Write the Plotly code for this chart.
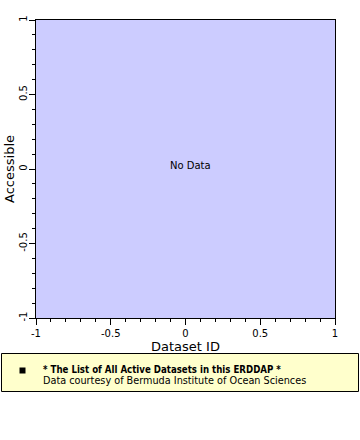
import plotly.graph_objects as go

# Data (empty: "No Data")
dataset_id = []
accessible = []

x_range = [-1, 1]
y_range = [-1, 1]
major_ticks = [-1, -0.5, 0, 0.5, 1]
tick_text = ["-1", "-0.5", "0", "0.5", "1"]

W, H = 360, 440
L, R, T, B = 36, 335, 20, 318

fig = go.Figure()
fig.add_trace(go.Scatter(x=dataset_id, y=accessible, mode="markers",
                         marker=dict(color="black", symbol="square", size=5),
                         showlegend=False))

def px_x(p):
    return (p - L) / (R - L)

def px_y(p):
    return (B - p) / (B - T)

font = "DejaVu Sans"
axis_common = dict(
    showline=True, linecolor="black", linewidth=1, mirror=True,
    showgrid=False, zeroline=False, automargin=False,
    ticks="outside", ticklen=6, tickcolor="black", tickwidth=1,
    tickvals=major_ticks, ticktext=tick_text,
    tickfont=dict(family=font, size=10, color="black"),
    minor=dict(ticks="outside", ticklen=3, dtick=0.1, tick0=0, tickcolor="black", showgrid=False),
)

fig.update_layout(
    width=W, height=H,
    margin=dict(l=L, r=W - R, t=T, b=H - B, pad=0),
    paper_bgcolor="white", plot_bgcolor="#ccccff",
    font=dict(family=font, size=10, color="black"),
    xaxis=dict(range=x_range, **axis_common,
               title=dict(text="Dataset ID", font=dict(family=font, size=13), standoff=1)),
    yaxis=dict(range=y_range, tickangle=-90, ticklabelstandoff=-2, **axis_common,
               title=dict(text="Accessible", font=dict(family=font, size=13), standoff=0)),
    shapes=[
        dict(type="rect", xref="paper", yref="paper",
             x0=px_x(1.5), x1=px_x(358.5), y0=px_y(353.5), y1=px_y(391.5),
             line=dict(color="black", width=1), fillcolor="#ffffcc", layer="below"),
        dict(type="rect", xref="paper", yref="paper",
             x0=px_x(19.5), x1=px_x(25.5), y0=px_y(367.5), y1=px_y(373.5),
             line=dict(width=0), fillcolor="black"),
    ],
    annotations=[
        dict(text="No Data", xref="paper", yref="paper", x=px_x(190), y=px_y(165),
             showarrow=False, font=dict(family=font, size=10, color="black")),
        dict(text="<b>* The List of All Active Datasets in this ERDDAP *</b>",
             xref="paper", yref="paper", x=px_x(41), y=px_y(369.5),
             xanchor="left", yanchor="middle", showarrow=False,
             font=dict(family="DejaVu Sans Condensed", size=9.6, color="black")),
        dict(text="Data courtesy of Bermuda Institute of Ocean Sciences",
             xref="paper", yref="paper", x=px_x(41), y=px_y(380.5),
             xanchor="left", yanchor="middle", showarrow=False,
             font=dict(family=font, size=9.7, color="black")),
    ],
)

fig.write_html("out.html")
